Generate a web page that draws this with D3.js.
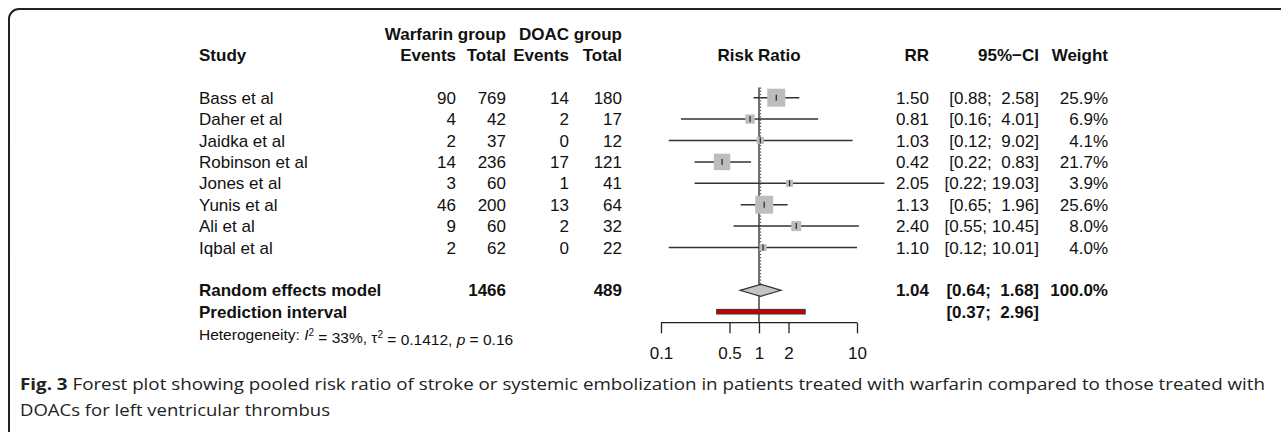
<!DOCTYPE html>
<html>
<head>
<meta charset="utf-8">
<script src="https://cdn.jsdelivr.net/npm/d3@7"></script>
<style>
  body { margin: 0; background: #fff; }
  svg { display: block; }
  .t { font-family: "Liberation Sans", Arial, sans-serif; font-size: 17px; fill: #111; white-space: pre; }
  .b { font-weight: bold; }
  .cap { font-family: "Open Sans", "Noto Sans", sans-serif; font-size: 16.5px; fill: #222; }
</style>
</head>
<body>
<svg id="chart" width="1281" height="432"></svg>
<script>
const studies = ["Bass et al", "Daher et al", "Jaidka et al", "Robinson et al",
  "Jones et al", "Yunis et al", "Ali et al", "Iqbal et al"];
const eventsW = [90, 4, 2, 14, 3, 46, 9, 2];
const totalW = [769, 42, 37, 236, 60, 200, 60, 62];
const eventsD = [14, 2, 0, 17, 1, 13, 2, 0];
const totalD = [180, 17, 12, 121, 41, 64, 32, 22];
const rr = [1.50, 0.81, 1.03, 0.42, 2.05, 1.13, 2.40, 1.10];
const lower = [0.88, 0.16, 0.12, 0.22, 0.22, 0.65, 0.55, 0.12];
const upper = [2.58, 4.01, 9.02, 0.83, 19.03, 1.96, 10.45, 10.01];
const weight = [25.9, 6.9, 4.1, 21.7, 3.9, 25.6, 8.0, 4.0];
const pooled = { rr: 1.04, lower: 0.64, upper: 1.68, weight: 100.0, totalW: 1466, totalD: 489 };
const predInterval = [0.37, 2.96];
const axisTicks = [0.1, 0.5, 1, 2, 10];

const svg = d3.select("#chart");

// frame round the figure, cut by the right and bottom edge
svg.append("rect")
  .attr("x", 9).attr("y", 9)
  .attr("width", 1320).attr("height", 460)
  .attr("rx", 10)
  .attr("fill", "none").attr("stroke", "#222").attr("stroke-width", 2);

const x = d3.scaleLog().domain([0.1, 10]).range([661, 857]);
const y = d3.scaleLinear().domain([0, 1]).range([97.7, 119.1]);
const rowRandom = 9, rowPred = 10;
const fmt = (v) => v.toFixed(2);
const pad = (s, n) => " ".repeat(Math.max(0, n - s.length)) + s;
const ciText = (lo, hi) => `[${fmt(lo)}; ${pad(fmt(hi), 5)}]`;

const col = { study: 199, evW: 456, totW: 506, evD: 569, totD: 622, rr: 929, ci: 1039, w: 1108 };

function text(g, xx, yy, str, anchor, bold) {
  return g.append("text")
    .attr("class", "t" + (bold ? " b" : ""))
    .attr("x", xx).attr("y", yy)
    .attr("dy", "0.36em")
    .attr("text-anchor", anchor)
    .text(str);
}

// headers
const head = svg.append("g");
text(head, col.totW, 33.5, "Warfarin group", "end", true);
text(head, col.totD, 33.5, "DOAC group", "end", true);
text(head, col.study, 55, "Study", "start", true);
text(head, col.evW, 55, "Events", "end", true);
text(head, col.totW, 55, "Total", "end", true);
text(head, col.evD, 55, "Events", "end", true);
text(head, col.totD, 55, "Total", "end", true);
text(head, x(1), 55, "Risk Ratio", "middle", true);
text(head, col.rr, 55, "RR", "end", true);
text(head, col.ci, 55, "95%\u2212CI", "end", true);
text(head, col.w, 55, "Weight", "end", true);

// study rows
const rows = svg.append("g");
studies.forEach((s, i) => {
  const yy = y(i);
  text(rows, col.study, yy, s, "start");
  text(rows, col.evW, yy, eventsW[i], "end");
  text(rows, col.totW, yy, totalW[i], "end");
  text(rows, col.evD, yy, eventsD[i], "end");
  text(rows, col.totD, yy, totalD[i], "end");
  text(rows, col.rr, yy, fmt(rr[i]), "end");
  text(rows, col.ci, yy, ciText(lower[i], upper[i]), "end");
  text(rows, col.w, yy, weight[i].toFixed(1) + "%", "end");
});

// pooled rows
text(rows, col.study, y(rowRandom), "Random effects model", "start", true);
text(rows, col.totW, y(rowRandom), pooled.totalW, "end", true);
text(rows, col.totD, y(rowRandom), pooled.totalD, "end", true);
text(rows, col.rr, y(rowRandom), fmt(pooled.rr), "end", true);
text(rows, col.ci, y(rowRandom), ciText(pooled.lower, pooled.upper), "end", true);
text(rows, col.w, y(rowRandom), pooled.weight.toFixed(1) + "%", "end", true);
text(rows, col.study, y(rowPred), "Prediction interval", "start", true);
text(rows, col.ci, y(rowPred), ciText(predInterval[0], predInterval[1]), "end", true);

// heterogeneity line
const het = svg.append("text")
  .attr("class", "t")
  .attr("x", col.study).attr("y", 334.5).attr("dy", "0.36em")
  .style("font-size", "15.5px");
het.append("tspan").text("Heterogeneity: ");
het.append("tspan").style("font-style", "italic").text("I");
het.append("tspan").attr("dy", "-0.45em").style("font-size", "10px").text("2");
het.append("tspan").attr("dy", "0.45em").text(" = 33%, \u03c4");
het.append("tspan").attr("dy", "-0.45em").style("font-size", "10px").text("2");
het.append("tspan").attr("dy", "0.45em").text(" = 0.1412, ");
het.append("tspan").style("font-style", "italic").text("p");
het.append("tspan").text(" = 0.16");

// forest panel
const plot = svg.append("g");
const topY = 87.5, axisY = 322.7;

plot.append("line")
  .attr("x1", x(1)).attr("x2", x(1))
  .attr("y1", topY).attr("y2", axisY)
  .attr("stroke", "#222").attr("stroke-width", 1.3);

plot.append("line")
  .attr("x1", x(pooled.rr)).attr("x2", x(pooled.rr))
  .attr("y1", topY).attr("y2", y(rowRandom) - 6)
  .attr("stroke", "#333").attr("stroke-width", 1)
  .attr("stroke-dasharray", "1.2,2");

const side = (w) => 3.54 * Math.sqrt(w);

studies.forEach((s, i) => {
  const yy = y(i);
  plot.append("line")
    .attr("x1", x(lower[i])).attr("x2", x(upper[i]))
    .attr("y1", yy).attr("y2", yy)
    .attr("stroke", "#333").attr("stroke-width", 1.5);
  const sz = side(weight[i]);
  plot.append("rect")
    .attr("x", x(rr[i]) - sz / 2).attr("y", yy - sz / 2)
    .attr("width", sz).attr("height", sz)
    .attr("fill", "#bdbdbd");
  plot.append("line")
    .attr("x1", x(rr[i])).attr("x2", x(rr[i]))
    .attr("y1", yy - 3).attr("y2", yy + 3)
    .attr("stroke", "#222").attr("stroke-width", 1.2);
});

// pooled diamond
const yr = y(rowRandom);
plot.append("path")
  .attr("d", `M${x(pooled.lower)},${yr} L${x(pooled.rr)},${yr - 6} L${x(pooled.upper)},${yr} L${x(pooled.rr)},${yr + 6} Z`)
  .attr("fill", "#c4c4c4").attr("stroke", "#333").attr("stroke-width", 1.2);

// prediction interval bar
const yp = y(rowPred);
plot.append("rect")
  .attr("x", x(predInterval[0])).attr("y", yp - 2.3)
  .attr("width", x(predInterval[1]) - x(predInterval[0])).attr("height", 4.6)
  .attr("fill", "#cc0000").attr("stroke", "#333").attr("stroke-width", 1);

// axis
const axis = d3.axisBottom(x)
  .tickValues(axisTicks)
  .tickFormat((d) => String(d))
  .tickSize(10.6)
  .tickPadding(14)
  .tickSizeOuter(0);
const ax = plot.append("g")
  .attr("transform", `translate(0,${axisY})`)
  .call(axis);
ax.select(".domain").attr("stroke", "#222").attr("stroke-width", 1.3)
  .attr("d", `M${x(0.1)},0H${x(10)}`);
ax.selectAll(".tick line").attr("stroke", "#222").attr("stroke-width", 1.3);
ax.selectAll(".tick text")
  .attr("class", "t")
  .attr("fill", "#111")
  .style("font-size", "17px");

// caption
const cap1 = svg.append("text")
  .attr("class", "cap")
  .attr("x", 20).attr("y", 390)
  .attr("textLength", 1245).attr("lengthAdjust", "spacingAndGlyphs");
cap1.append("tspan").style("font-weight", "bold").text("Fig. 3");
cap1.append("tspan").text(" Forest plot showing pooled risk ratio of stroke or systemic embolization in patients treated with warfarin compared to those treated with");
svg.append("text")
  .attr("class", "cap")
  .attr("x", 20).attr("y", 416)
  .attr("textLength", 310).attr("lengthAdjust", "spacingAndGlyphs")
  .text("DOACs for left ventricular thrombus");
</script>
</body>
</html>
